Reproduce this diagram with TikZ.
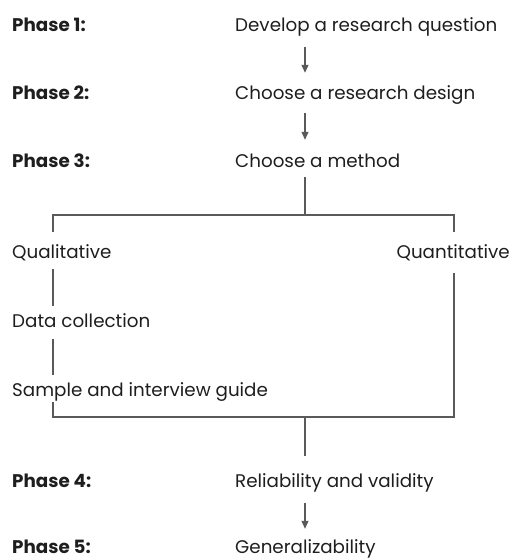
\documentclass[tikz,border=0pt]{standalone}
\usepackage{fontspec}
\setmainfont{Poppins}
\usetikzlibrary{arrows.meta}
\definecolor{txt}{HTML}{1E1E1E}
\definecolor{ln}{HTML}{5A5A5A}
\tikzset{
  lbl/.style={anchor=base west,inner sep=0pt,text height=14pt,text depth=4pt,text=txt,font=\fontsize{18.3}{20}\selectfont},
  phase/.style={lbl,font=\fontsize{18.3}{20}\selectfont\bfseries},
  conn/.style={draw=ln,line width=1.1pt},
  arr/.style={conn,-{Triangle[length=8pt,width=7pt]}}
}
\begin{document}
\begin{tikzpicture}[x=1pt,y=-1pt]
\useasboundingbox (0,0) rectangle (512,558);
% phase labels
\node[phase] (ph1) at (12,31) {Phase 1:};
\node[phase] (ph2) at (12,99) {Phase 2:};
\node[phase] (ph3) at (12,167) {Phase 3:};
\node[phase] (ph4) at (12,487) {Phase 4:};
\node[phase] (ph5) at (12,553) {Phase 5:};
% steps
\node[lbl] (s1) at (235,31) {Develop a research question};
\node[lbl] (s2) at (235,99) {Choose a research design};
\node[lbl] (s3) at (235,167) {Choose a method};
\node[lbl] (s4) at (235,487) {Reliability and validity};
\node[lbl] (s5) at (235,553) {Generalizability};
\node[lbl] (ql) at (12,258) {Qualitative};
\node[lbl,anchor=base east] (qn) at (510,258) {Quantitative};
\node[lbl] (dc) at (12,327) {Data collection};
\node[lbl] (si) at (12,396) {Sample and interview guide};
% skeleton
\coordinate (spine) at (305,0);
\coordinate (lft) at (53,0);
\coordinate (rgt) at (454,0);
\coordinate (split) at (305,215);
\coordinate (join) at (305,417);
% arrows
\draw[arr,shorten <=12pt,shorten >=12pt] (s1.south -| spine) -- (s2.north -| spine);
\draw[arr,shorten <=10pt,shorten >=13pt] (s2.south -| spine) -- (s3.north -| spine);
\draw[arr,shorten <=12pt,shorten >=10pt] (s4.south -| spine) -- (s5.north -| spine);
% split
\draw[conn,shorten <=6pt] (s3.south -| spine) -- (split);
\draw[conn,shorten >=12pt] (split) -| (ql.north -| lft);
\draw[conn,shorten >=12pt] (split) -| (qn.north -| rgt);
\draw[conn,shorten <=7pt,shorten >=7pt] (ql.south -| lft) -- (dc.north -| lft);
\draw[conn,shorten <=8pt,shorten >=7pt] (dc.south -| lft) -- (si.north -| lft);
\draw[conn,shorten <=2pt] (si.south -| lft) |- (join);
\draw[conn,shorten >=11pt] (join) -| (qn.south -| rgt);
\draw[conn,shorten >=17pt] (join) -- (s4.north -| spine);
\end{tikzpicture}
\end{document}
